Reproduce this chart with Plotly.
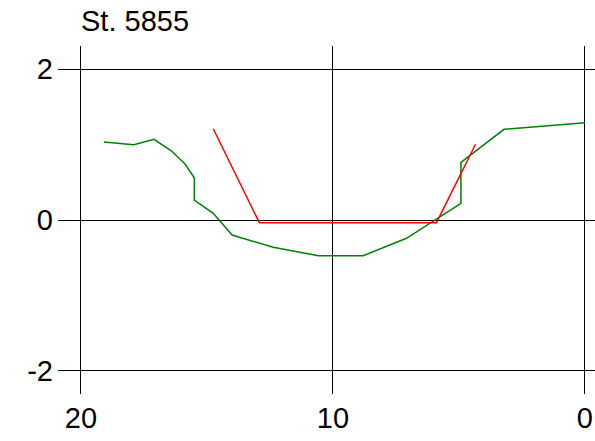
import plotly.graph_objects as go

# Ground profile (green)
ground_x = [19.09, 17.90, 17.10, 16.40, 15.86, 15.50, 15.50, 14.75, 14.00, 12.37,
            10.58, 8.80, 7.08, 4.92, 4.92, 3.21, 0.00]
ground_y = [1.033, 0.997, 1.069, 0.914, 0.738, 0.556, 0.265, 0.089, -0.199, -0.362,
            -0.473, -0.473, -0.242, 0.221, 0.764, 1.201, 1.289]

# Design profile (red)
design_x = [14.75, 12.92, 5.89, 4.34]
design_y = [1.209, -0.035, -0.035, 1.003]

x_ticks = [20, 10, 0]
y_ticks = [2, 0, -2]
title_text = "St. 5855"

fig = go.Figure()
fig.add_trace(go.Scatter(x=ground_x, y=ground_y, mode="lines",
                         line=dict(color="#008000", width=1.5), showlegend=False))
fig.add_trace(go.Scatter(x=design_x, y=design_y, mode="lines",
                         line=dict(color="#ff0000", width=1.5), showlegend=False))

font = dict(family="Arial, Liberation Sans, sans-serif", size=29, color="black")

W, H = 595, 441
fig.update_layout(
    width=W, height=H,
    margin=dict(l=58, r=0, t=46, b=47, autoexpand=False),
    paper_bgcolor="white", plot_bgcolor="white",
    font=font,
    title=dict(text=title_text, font=font, xref="container", yref="container",
               x=81 / W, xanchor="left", y=1 - 21 / H, yanchor="middle"),
)
fig.update_xaxes(range=[20.91, -0.4], tickvals=x_ticks, ticktext=[str(v) for v in x_ticks],
                 showgrid=True, gridcolor="black", gridwidth=1, zeroline=False,
                 showline=False, ticks="", ticklabelstandoff=4, tickfont=font,
                 automargin=False)
fig.update_yaxes(range=[-2.305, 2.305], tickvals=y_ticks, ticktext=[str(v) for v in y_ticks],
                 showgrid=True, gridcolor="black", gridwidth=1, zeroline=False,
                 showline=False, ticks="", ticklabelstandoff=4, tickfont=font,
                 automargin=False)

fig.write_html("out.html", config={"displayModeBar": False},
               post_script="document.body.style.margin='0px';document.body.style.overflow='hidden';")
